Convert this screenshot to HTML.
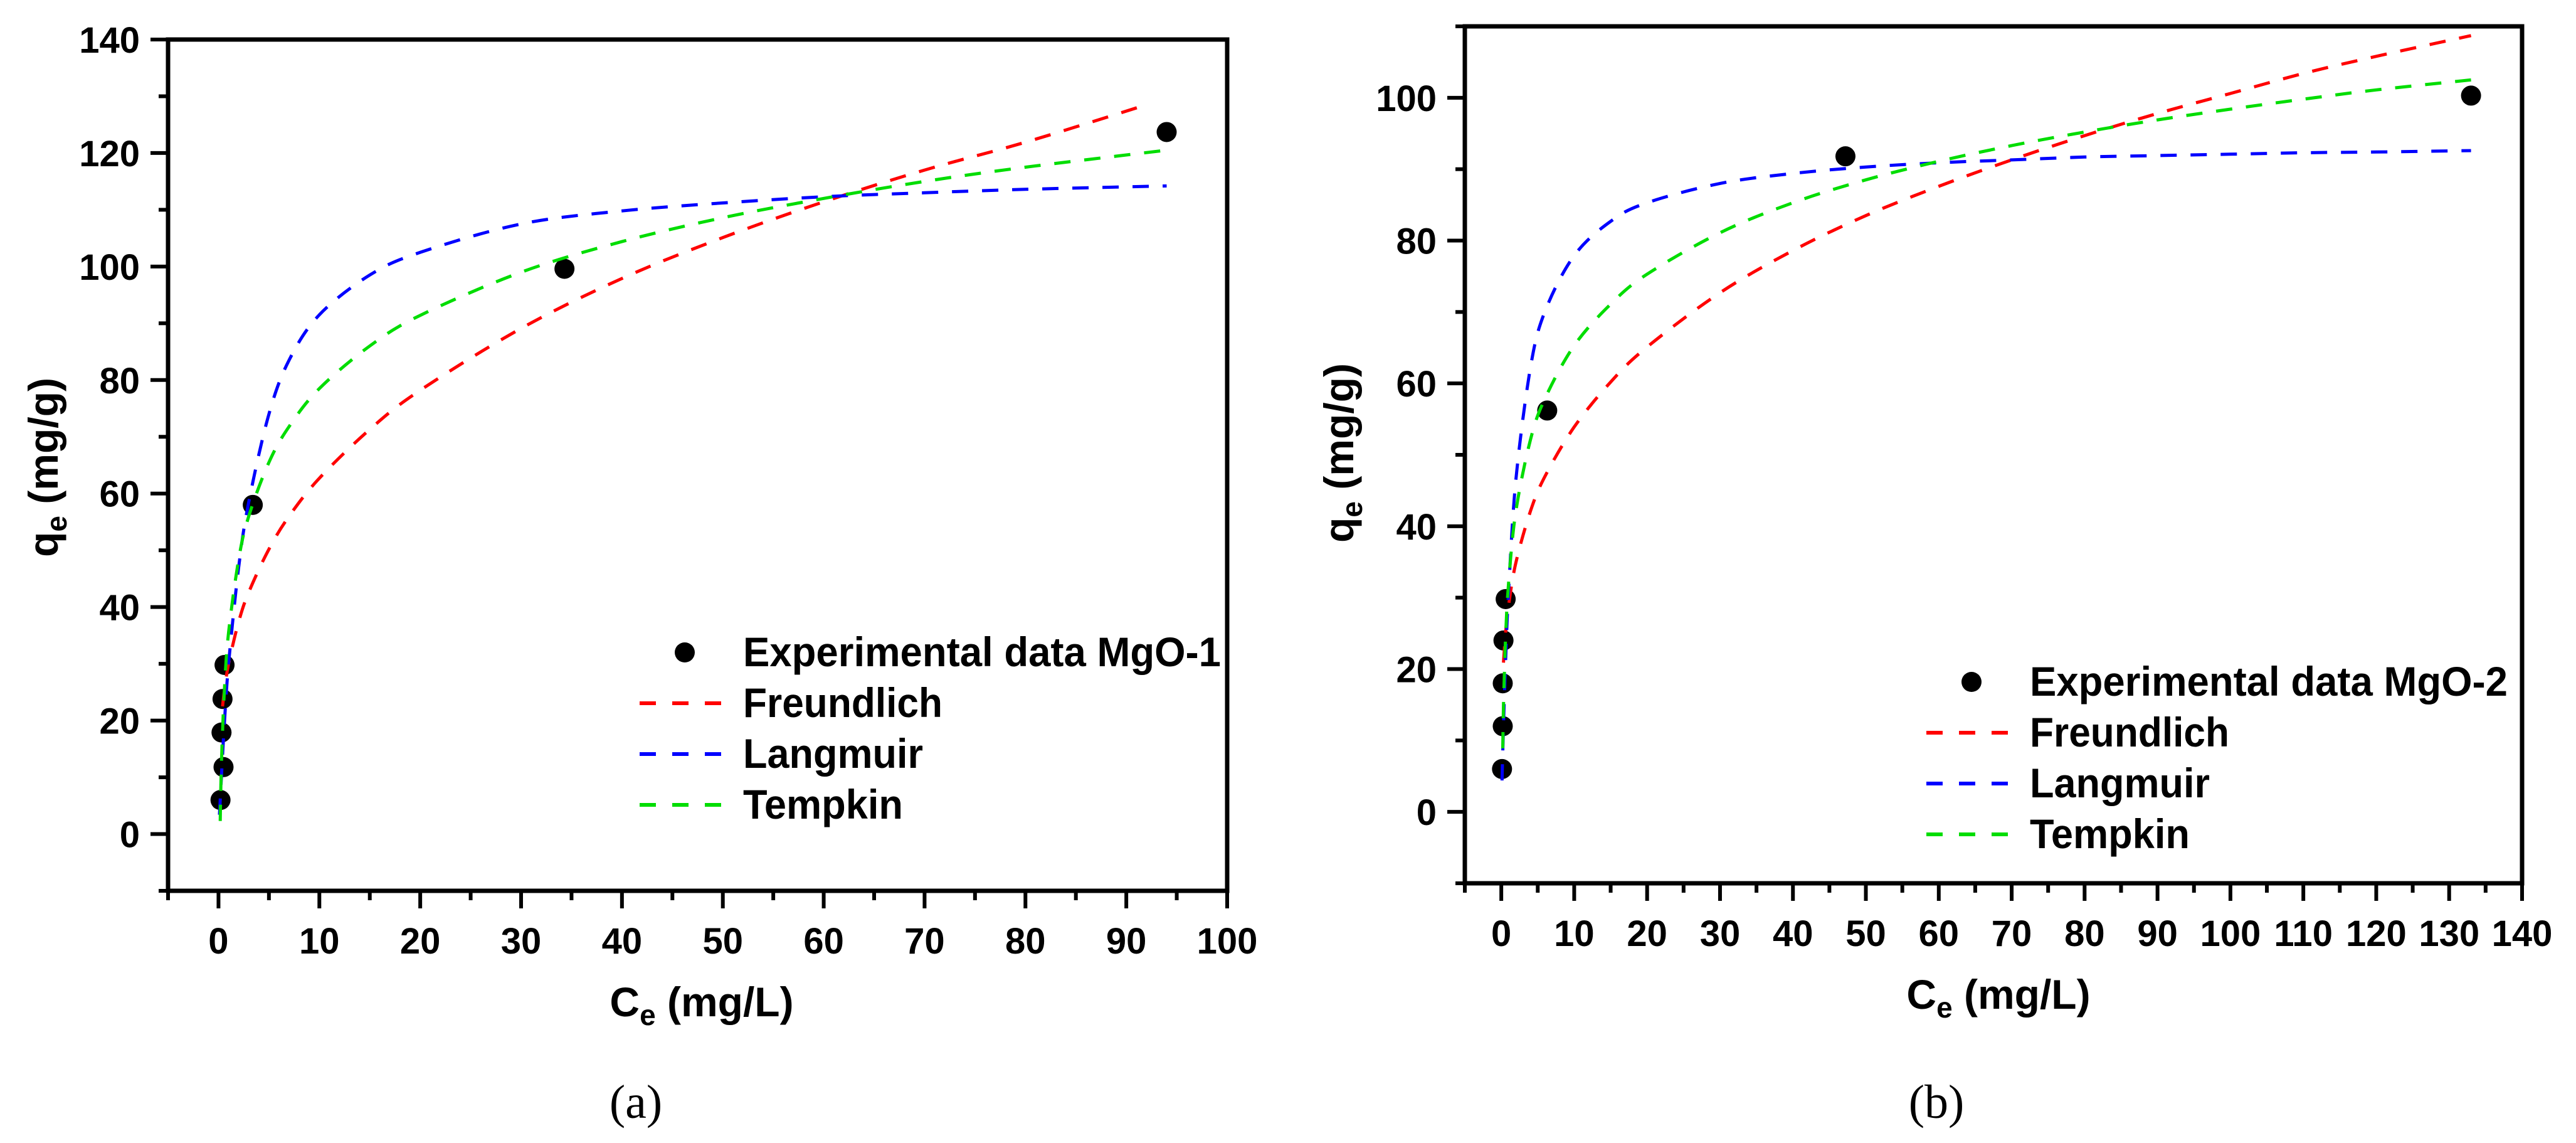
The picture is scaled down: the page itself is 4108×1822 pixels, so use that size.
<!DOCTYPE html>
<html><head><meta charset="utf-8">
<style>
html,body{margin:0;padding:0;background:#fff;}
svg{display:block;}
text{font-family:"Liberation Sans",Arial,sans-serif;font-weight:bold;fill:#000;}
</style></head>
<body>
<svg id="fig" width="4108" height="1822" viewBox="0 0 4108 1822" xmlns="http://www.w3.org/2000/svg"></svg>
<script>
// ---- Panel (a) data ----
const aExpX = [0.2, 0.5, 0.3, 0.4, 0.6, 3.4, 34.3, 94];
const aExpY = [6, 11.8, 17.9, 23.8, 29.8, 58, 99.6, 123.7];
const aFreX = [0.4, 0.6, 1, 2, 3, 5, 7, 10, 15, 20, 30, 40, 50, 60, 70, 80, 92];
const aFreY = [22.5, 25.5, 30, 37.4, 42.6, 50.2, 56, 62.7, 71.3, 78.2, 89.1, 97.9, 105.1, 111.4, 117, 121.9, 128.5];
const aLanX = [0.1, 0.3, 0.6, 1, 2, 3, 5, 7, 10, 15, 20, 30, 40, 50, 60, 70, 80, 94];
const aLanY = [3.4, 10.5, 20, 30, 47, 58.5, 74, 83.5, 91.5, 98.5, 102.5, 107.5, 109.8, 111.2, 112.3, 113, 113.6, 114.2];
const aTemX = [0.17, 0.3, 0.6, 1, 2, 3, 5, 7, 10, 15, 20, 30, 40, 50, 60, 70, 80, 94];
const aTemY = [2.3, 13, 25.9, 35.5, 48.4, 56, 65.5, 71.8, 78.5, 86, 91.4, 99, 104.4, 108.6, 112, 115, 117.5, 120.5];
const aXTicks = [0, 10, 20, 30, 40, 50, 60, 70, 80, 90, 100];
const aYTicks = [0, 20, 40, 60, 80, 100, 120, 140];
// ---- Panel (b) data ----
const bExpX = [0.1, 0.2, 0.2, 0.3, 0.6, 6.3, 47.2, 133];
const bExpY = [6, 12, 18, 24, 29.8, 56.2, 91.8, 100.3];
const bFreX = [0.3, 0.6, 1, 2, 4, 6, 10, 15, 20, 30, 40, 50, 60, 70, 80, 90, 100, 110, 120, 133];
const bFreY = [20.9, 25.2, 28.9, 34.9, 42.1, 47, 53.9, 60.2, 65.1, 72.7, 78.6, 83.5, 87.6, 91.3, 94.7, 97.8, 100.6, 103.4, 105.8, 108.7];
const bLanX = [0.1, 0.3, 0.6, 1, 2, 4, 6, 10, 15, 20, 30, 40, 50, 60, 70, 80, 90, 100, 110, 120, 133];
const bLanY = [4.4, 12, 21.4, 30.9, 46.5, 62.2, 70.1, 77.9, 82.7, 85.3, 88, 89.4, 90.3, 90.9, 91.3, 91.7, 91.9, 92.1, 92.3, 92.4, 92.6];
const bTemX = [0.2, 0.3, 0.6, 1, 2, 4, 6, 10, 15, 20, 30, 40, 50, 60, 70, 80, 90, 100, 110, 120, 133];
const bTemY = [8.9, 14.8, 24.7, 32.1, 42.1, 52.1, 57.9, 65.3, 71.1, 75.3, 81.1, 85.3, 88.5, 91.1, 93.3, 95.2, 96.9, 98.4, 99.8, 101.1, 102.5];
const bXTicks = [0, 10, 20, 30, 40, 50, 60, 70, 80, 90, 100, 110, 120, 130, 140];
const bYTicks = [0, 20, 40, 60, 80, 100];
const seriesNames = ["Freundlich", "Langmuir", "Tempkin"];
const seriesColors = ["#ff0000", "#0000ff", "#00dd00"];

const NS = "http://www.w3.org/2000/svg";
const svg = document.getElementById("fig");
function mk(tag, attrs, parent) {
  const e = document.createElementNS(NS, tag);
  for (const k in attrs) e.setAttribute(k, attrs[k]);
  (parent || svg).appendChild(e);
  return e;
}
function smoothPath(pts) {
  let d = "M" + pts[0][0].toFixed(1) + "," + pts[0][1].toFixed(1);
  for (let i = 0; i < pts.length - 1; i++) {
    const p0 = pts[Math.max(0, i - 1)], p1 = pts[i], p2 = pts[i + 1], p3 = pts[Math.min(pts.length - 1, i + 2)];
    const c1 = [p1[0] + (p2[0] - p0[0]) / 6, p1[1] + (p2[1] - p0[1]) / 6];
    const c2 = [p2[0] - (p3[0] - p1[0]) / 6, p2[1] - (p3[1] - p1[1]) / 6];
    d += " C" + c1[0].toFixed(1) + "," + c1[1].toFixed(1) + " " + c2[0].toFixed(1) + "," + c2[1].toFixed(1) + " " + p2[0].toFixed(1) + "," + p2[1].toFixed(1);
  }
  return d;
}

function panel(cfg) {
  const g = mk("g", {});
  
  
  const xs = v => cfg.L + (v - cfg.xmin) / (cfg.xmax - cfg.xmin) * (cfg.R - cfg.L);
  const ys = v => cfg.B - (v - cfg.ymin) / (cfg.ymax - cfg.ymin) * (cfg.B - cfg.T);
  cfg.expX.forEach((x, i) => {
    const c = mk("circle", {cx: xs(x), cy: ys(cfg.expY[i]), r: 16, fill: "#000"}, g);
    
    
  });
  const curveX = [cfg.freX, cfg.lanX, cfg.temX], curveY = [cfg.freY, cfg.lanY, cfg.temY];
  for (let s = 0; s < 3; s++) {
    const pts = curveX[s].map((x, i) => [xs(x), ys(curveY[s][i])]);
    const p = mk("path", {d: smoothPath(pts), fill: "none", stroke: seriesColors[s], "stroke-width": 5, "stroke-dasharray": "26 22"}, g);
    
    
  }
  const fr = mk("rect", {x: cfg.L, y: cfg.T, width: cfg.R - cfg.L, height: cfg.B - cfg.T, fill: "none", stroke: "#000", "stroke-width": 7}, g);
  
  
  for (let v = cfg.xmin; v <= cfg.xmax + 0.01; v += 5) {
    const major = cfg.xTicks.indexOf(v) >= 0;
    const t = mk("line", {x1: xs(v), x2: xs(v), y1: cfg.B, y2: cfg.B + (major ? 28 : 15), stroke: "#000", "stroke-width": 6}, g);
    
    
  }
  cfg.xTicks.forEach(v => {
    const t = mk("text", {x: xs(v), y: cfg.B + 100, "font-size": 58, "text-anchor": "middle"}, g);
    t.textContent = v;
    
    
  });
  for (let v = cfg.ymin; v <= cfg.ymax + 0.01; v += 10) {
    const major = cfg.yTicks.indexOf(v) >= 0;
    const t = mk("line", {x1: cfg.L - (major ? 28 : 15), x2: cfg.L, y1: ys(v), y2: ys(v), stroke: "#000", "stroke-width": 6}, g);
    
    
  }
  cfg.yTicks.forEach(v => {
    const t = mk("text", {x: cfg.L - 45, y: ys(v) + 21, "font-size": 58, "text-anchor": "end"}, g);
    t.textContent = v;
    
    
  });
  const yt = mk("text", {transform: "translate(" + cfg.ylx + "," + cfg.yly + ") rotate(-90)", "font-size": 66, "text-anchor": "middle"}, g);
  yt.innerHTML = 'q<tspan font-size="46" dy="14">e</tspan><tspan dy="-14"> (mg/g)</tspan>';
  
  
  const xt = mk("text", {x: cfg.xlx, y: cfg.xly, "font-size": 66, "text-anchor": "middle"}, g);
  xt.innerHTML = 'C<tspan font-size="46" dy="14">e</tspan><tspan dy="-14"> (mg/L)</tspan>';
  
  
  const lg = mk("g", {}, g);
  
  
  const m = mk("circle", {cx: cfg.legX, cy: cfg.legY, r: 16, fill: "#000"}, lg);
  
  
  const lt = mk("text", {x: cfg.legX + 93, y: cfg.legY + 22, "font-size": 66, textLength: cfg.expLen, lengthAdjust: "spacingAndGlyphs"}, lg);
  lt.textContent = cfg.expLabel;
  
  
  const lens = [318, 287, 255];
  for (let s = 0; s < 3; s++) {
    const yy = cfg.legY + 81 * (s + 1);
    const ln = mk("line", {x1: cfg.legX - 72, x2: cfg.legX + 60, y1: yy, y2: yy, stroke: seriesColors[s], "stroke-width": 6, "stroke-dasharray": "26 26"}, lg);
    
    
    const tx = mk("text", {x: cfg.legX + 93, y: yy + 22, "font-size": 66, textLength: lens[s], lengthAdjust: "spacingAndGlyphs"}, lg);
    tx.textContent = seriesNames[s];
    
    
  }
  const cap = mk("text", {x: cfg.capX, y: cfg.capY, "font-size": 76, "text-anchor": "middle", style: "font-family:'Liberation Serif',serif;font-weight:normal"}, g);
  cap.textContent = cfg.caption;
  
  
}

panel({name: "panel-a", L: 268, R: 1957, T: 63, B: 1420, xmin: -5, xmax: 100, ymin: -10, ymax: 140,
  expX: aExpX, expY: aExpY, freX: aFreX, freY: aFreY, lanX: aLanX, lanY: aLanY, temX: aTemX, temY: aTemY,
  xTicks: aXTicks, yTicks: aYTicks, ylx: 92, yly: 745, xlx: 1119, xly: 1620,
  legX: 1092, legY: 1040, expLabel: "Experimental data MgO-1", expLen: 762, capX: 1014, capY: 1782, caption: "(a)"});
panel({name: "panel-b", L: 2336, R: 4022, T: 42, B: 1408, xmin: -5, xmax: 140, ymin: -10, ymax: 110,
  expX: bExpX, expY: bExpY, freX: bFreX, freY: bFreY, lanX: bLanX, lanY: bLanY, temX: bTemX, temY: bTemY,
  xTicks: bXTicks, yTicks: bYTicks, ylx: 2158, yly: 722, xlx: 3187, xly: 1608,
  legX: 3144, legY: 1087, expLabel: "Experimental data MgO-2", expLen: 762, capX: 3088, capY: 1782, caption: "(b)"});
</script>
</body></html>
